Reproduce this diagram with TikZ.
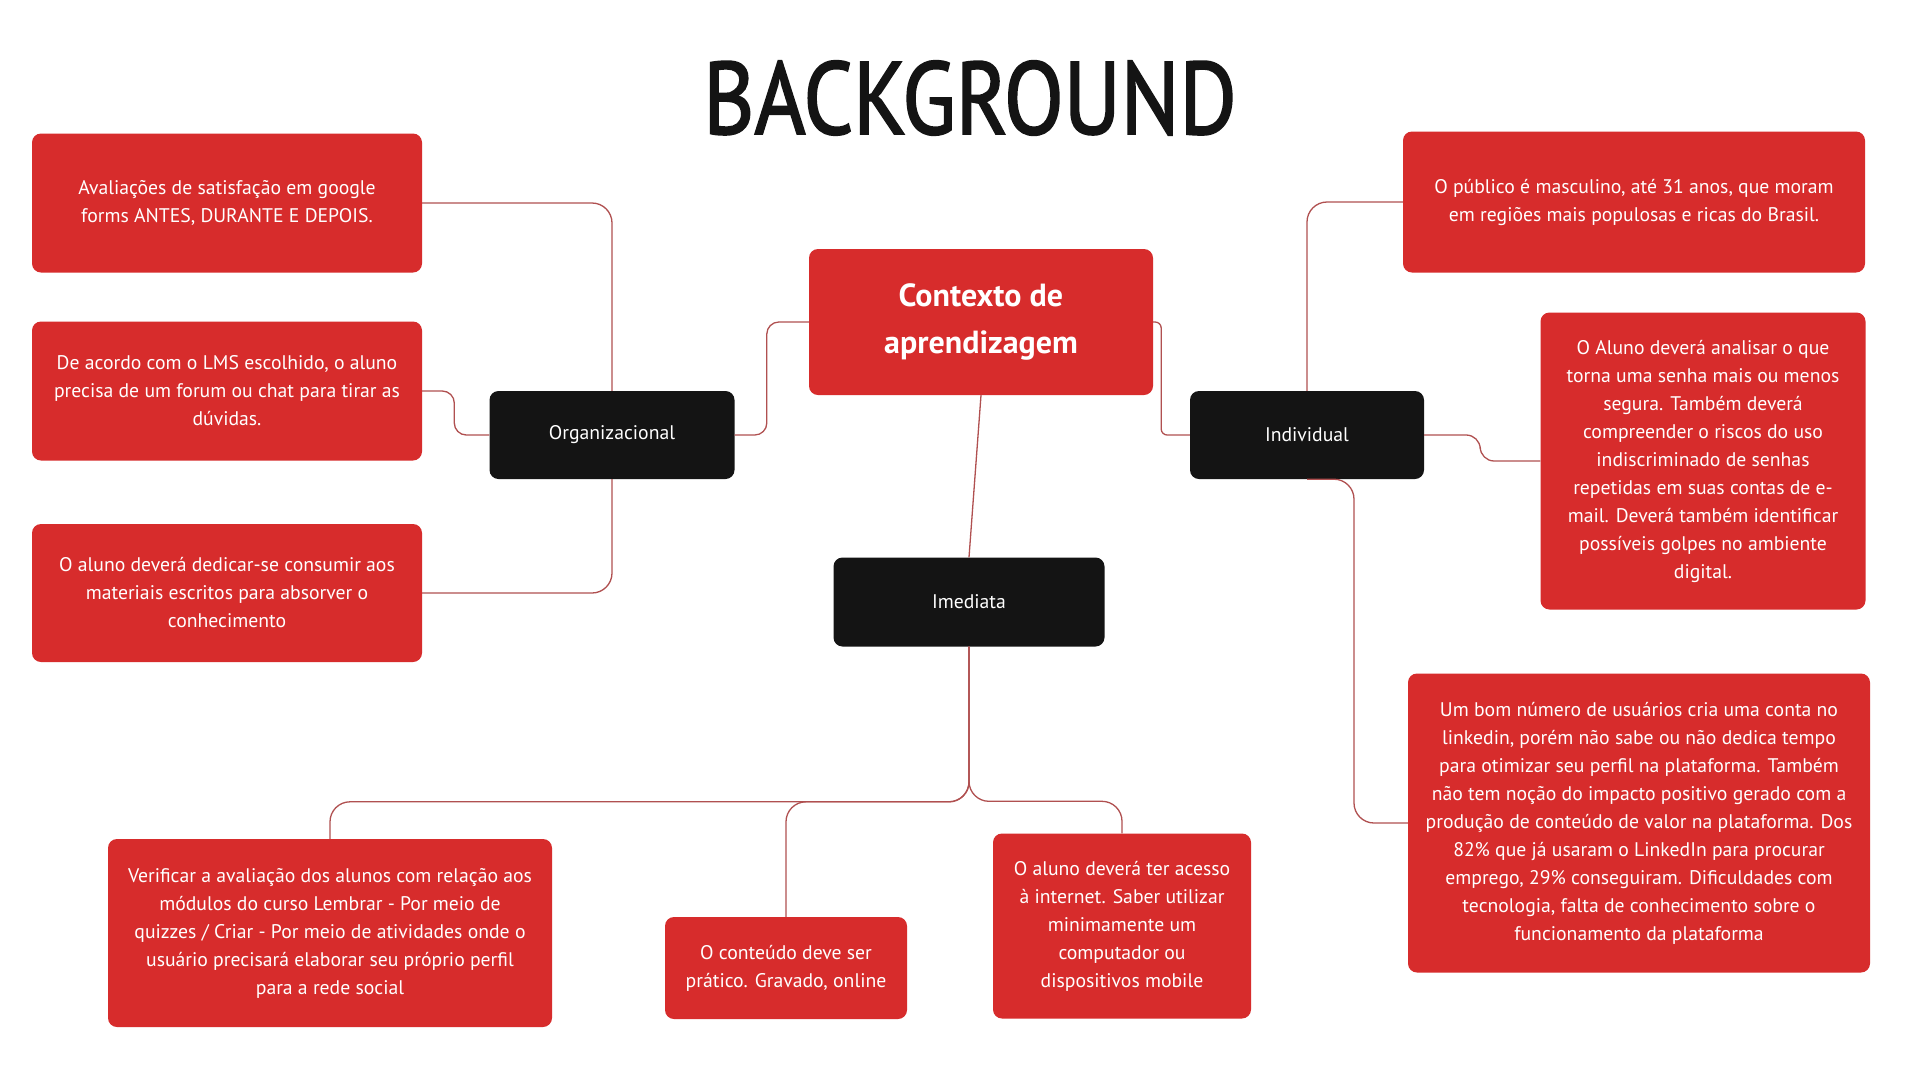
\documentclass[tikz,border=0pt]{standalone}
\usepackage{fontspec}
\usepackage{graphicx}
\setmainfont{PT Sans}
\newfontfamily\titlefont{PT Sans}[FakeBold=2]
\usetikzlibrary{calc}
\definecolor{boxred}{RGB}{215,44,44}
\definecolor{boxblack}{RGB}{20,20,20}
\definecolor{linkred}{RGB}{176,80,80}
\tikzset{
  redbox/.style={fill=boxred, text=white, rounded corners=9pt, inner sep=0pt, align=center,
    font=\fontsize{19.7}{28}\selectfont},
  blackbox/.style={fill=boxblack, text=white, rounded corners=9pt, inner sep=0pt, align=center,
    minimum height=88pt, font=\fontsize{19.7}{28}\selectfont},
  conn/.style={draw=linkred, line width=1.3pt, rounded corners=20pt},
}
\begin{document}
\begin{tikzpicture}[x=1pt,y=-1pt]
\useasboundingbox[fill=white] (0,0) rectangle (1920,1080);

% title
\node[text=boxblack] (title) at (970,98) {\resizebox{533pt}{73pt}{\titlefont BACKGROUND}};

% central and category nodes
\node[redbox, minimum width=344pt, minimum height=146pt, font=\fontsize{32}{47}\selectfont\bfseries] (ctx) at (981,322) {Contexto de\\aprendizagem};
\node[blackbox, minimum width=245pt] (org) at (612,435) {Organizacional};
\node[blackbox, minimum width=234pt] (ind) at (1307,435) {Individual};
\node[blackbox, minimum width=271pt, minimum height=89pt] (imm) at (969,602) {Imediata};

% left boxes
\node[redbox, minimum width=390pt, minimum height=139pt] (l1) at (227,203) {Avaliações de satisfação em google\\forms ANTES, DURANTE E DEPOIS.};
\node[redbox, minimum width=390pt, minimum height=139pt] (l2) at (227,391) {De acordo com o LMS escolhido, o aluno\\precisa de um forum ou chat para tirar as\\dúvidas.};
\node[redbox, minimum width=390pt, minimum height=138pt] (l3) at (227,593) {O aluno deverá dedicar-se consumir aos\\materiais escritos para absorver o\\conhecimento};

% right boxes
\node[redbox, minimum width=462pt, minimum height=141pt] (r1) at (1634,202) {O público é masculino, até 31 anos, que moram\\em regiões mais populosas e ricas do Brasil.};
\node[redbox, minimum width=325pt, minimum height=297pt] (r2) at (1703,461) {O Aluno deverá analisar o que\\torna uma senha mais ou menos\\segura. Também deverá\\compreender o riscos do uso\\indiscriminado de senhas\\repetidas em suas contas de e-\\mail. Deverá também identificar\\possíveis golpes no ambiente\\digital.};
\node[redbox, minimum width=462pt, minimum height=299pt] (r3) at (1639,823) {Um bom número de usuários cria uma conta no\\linkedin, porém não sabe ou não dedica tempo\\para otimizar seu perfil na plataforma. Também\\não tem noção do impacto positivo gerado com a\\produção de conteúdo de valor na plataforma. Dos\\82\% que já usaram o LinkedIn para procurar\\emprego, 29\% conseguiram. Dificuldades com\\tecnologia, falta de conhecimento sobre o\\funcionamento da plataforma};

% bottom boxes
\node[redbox, minimum width=444pt, minimum height=188pt] (b1) at (330,933) {Verificar a avaliação dos alunos com relação aos\\módulos do curso Lembrar - Por meio de\\quizzes / Criar - Por meio de atividades onde o\\usuário precisará elaborar seu próprio perfil\\para a rede social};
\node[redbox, minimum width=242pt, minimum height=102pt] (b2) at (786,968) {O conteúdo deve ser\\prático. Gravado, online};
\node[redbox, minimum width=258pt, minimum height=185pt] (b3) at (1122,926) {O aluno deverá ter acesso\\à internet. Saber utilizar\\minimamente um\\computador ou\\dispositivos mobile};

% connectors
\draw[conn, rounded corners=12pt] (ctx.west) -- ++(-42,0) |- (org.east);
\draw[conn, rounded corners=6pt] (ctx.east) -- ++(8,0) |- (ind.west);
\draw[conn] (ctx.south) -- (imm.north);

\draw[conn] (org.north) |- (l1.east);
\draw[conn] (org.south) |- (l3.east);
\draw[conn, rounded corners=12pt] (org.west) -- ++(-35,0) |- (l2.east);

\draw[conn] (ind.north) |- (r1.west);
\draw[conn, rounded corners=14pt] (ind.east) -- ++(56,0) |- (r2.west);
\draw[conn] (ind.south) -- ++(47,0) |- (r3.west);

\draw[conn] (imm.south) |- ($(b1.north)+(0,-37)$) -- (b1.north);
\draw[conn] (imm.south) |- ($(b2.north)+(0,-115)$) -- (b2.north);
\draw[conn] (imm.south) |- ($(b3.north)+(0,-32)$) -- (b3.north);
\end{tikzpicture}
\end{document}
